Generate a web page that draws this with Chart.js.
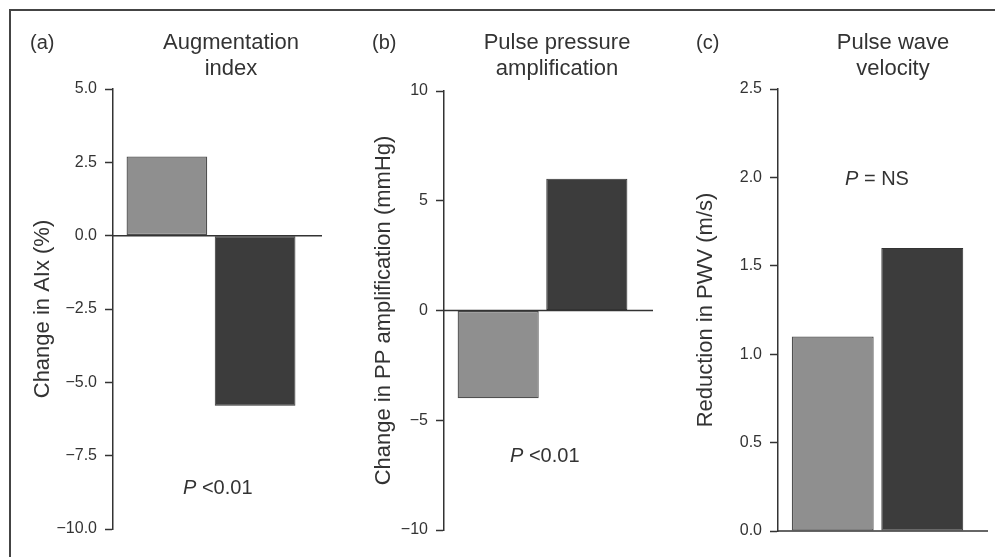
<!DOCTYPE html>
<html>
<head>
<meta charset="utf-8">
<script src="https://cdn.jsdelivr.net/npm/chart.js@4.4.0/dist/chart.umd.min.js"></script>
<style>
body { margin:0; background:#fff; width:995px; height:557px; overflow:hidden; position:relative; }
#frame { position:absolute; left:9px; top:9px; width:1000px; height:600px; border-top:2px solid #444; border-left:2px solid #444; }
canvas { position:absolute; top:0; }
</style>
</head>
<body>
<div id="frame"></div>
<canvas id="c0" width="330" height="557" style="left:0"></canvas>
<canvas id="c1" width="330" height="557" style="left:330px"></canvas>
<canvas id="c2" width="335" height="557" style="left:660px"></canvas>
<script>
// data
const panelLabels = ['(a)', '(b)', '(c)'];
const headings = [['Augmentation', 'index'], ['Pulse pressure', 'amplification'], ['Pulse wave', 'velocity']];
const axisTitles = ['Change in AIx (%)', 'Change in PP amplification (mmHg)', 'Reduction in PWV (m/s)'];
const groupNames = ['Group 1', 'Group 2'];
const lightValues = [2.7, -4.0, 1.1];
const darkValues = [-5.8, 6.0, 1.6];
const yMins = [-10, -10, 0];
const yMaxs = [5, 10, 2.5];
const ySteps = [2.5, 5, 0.5];
const tickDecimals = [1, 0, 1];
const pTexts = ['<0.01', '<0.01', '= NS'];

// placement of each panel (pixels, except pY which is in axis units)
const layouts = [
  { axisW: 113, padR: 21, padT: 89, padB: 28, lineExt: 13, titlePad: 30, labelX: 30, headX: 231, pX: 183, pY: -8.8 },
  { axisW: 114, padR: 19, padT: 91, padB: 27, lineExt: 12, titlePad: 41, labelX: 42, headX: 227, pX: 180, pY: -6.9 },
  { axisW: 118, padR: 18, padT: 89, padB: 26, lineExt: 11, titlePad: 33, labelX: 36, headX: 233, pX: 185, pY: 1.955 }
];

const FONT = '"Liberation Sans", Arial, Helvetica, sans-serif';
const INK = '#333';

const notes = {
  id: 'notes',
  afterDatasetsDraw(chart, args, o) {
    const ctx = chart.ctx, a = chart.chartArea, y = chart.scales.y;
    ctx.save();
    // zero line, running a little past the bars
    const y0 = y.getPixelForValue(0);
    ctx.strokeStyle = INK;
    ctx.lineWidth = 1.5;
    ctx.beginPath();
    ctx.moveTo(a.left, y0);
    ctx.lineTo(a.right + o.lineExt, y0);
    ctx.stroke();

    ctx.fillStyle = INK;
    ctx.textBaseline = 'alphabetic';
    ctx.textAlign = 'left';
    ctx.font = '20px ' + FONT;
    ctx.fillText(o.label, o.labelX, 49);

    ctx.font = '22px ' + FONT;
    ctx.textAlign = 'center';
    o.heading.forEach((t, i) => ctx.fillText(t, o.headX, 49 + i * 26));

    // P value note
    const py = y.getPixelForValue(o.pY);
    ctx.textAlign = 'left';
    ctx.font = 'italic 20px ' + FONT;
    ctx.fillText('P', o.pX, py);
    const w = ctx.measureText('P ').width;
    ctx.font = '20px ' + FONT;
    ctx.fillText(o.pText, o.pX + w, py);
    ctx.restore();
  }
};

for (let i = 0; i < 3; i++) {
  const L = layouts[i];
  new Chart(document.getElementById('c' + i), {
    type: 'bar',
    data: {
      labels: [''],
      datasets: [
        { label: groupNames[0], data: [lightValues[i]], backgroundColor: '#8f8f8f', borderColor: '#505050', borderWidth: 1.3, borderSkipped: false },
        { label: groupNames[1], data: [darkValues[i]], backgroundColor: '#3c3c3c', borderColor: '#333', borderWidth: 1, borderSkipped: false }
      ]
    },
    options: {
      responsive: false,
      animation: false,
      events: [],
      layout: { padding: { left: 0, right: L.padR, top: L.padT, bottom: L.padB } },
      datasets: { bar: { categoryPercentage: 0.9, barPercentage: 0.915 } },
      scales: {
        x: { display: false },
        y: {
          min: yMins[i],
          max: yMaxs[i],
          afterFit: s => { s.width = L.axisW; },
          border: { display: true, color: INK, width: 1.5 },
          grid: { drawOnChartArea: false, drawTicks: true, tickLength: 8, tickColor: INK, tickWidth: 1.5 },
          ticks: {
            stepSize: ySteps[i],
            padding: 8,
            color: INK,
            font: { family: FONT, size: 16 },
            callback: v => Number(v).toFixed(tickDecimals[i]).replace('-', '\u2212')
          },
          title: {
            display: true,
            text: axisTitles[i],
            color: INK,
            font: { family: FONT, size: 22 },
            padding: { top: L.titlePad, bottom: 0 }
          }
        }
      },
      plugins: {
        legend: { display: false },
        tooltip: { enabled: false },
        notes: {
          label: panelLabels[i],
          heading: headings[i],
          pText: pTexts[i],
          lineExt: L.lineExt,
          labelX: L.labelX,
          headX: L.headX,
          pX: L.pX,
          pY: L.pY
        }
      }
    },
    plugins: [notes]
  });
}
</script>
</body>
</html>
